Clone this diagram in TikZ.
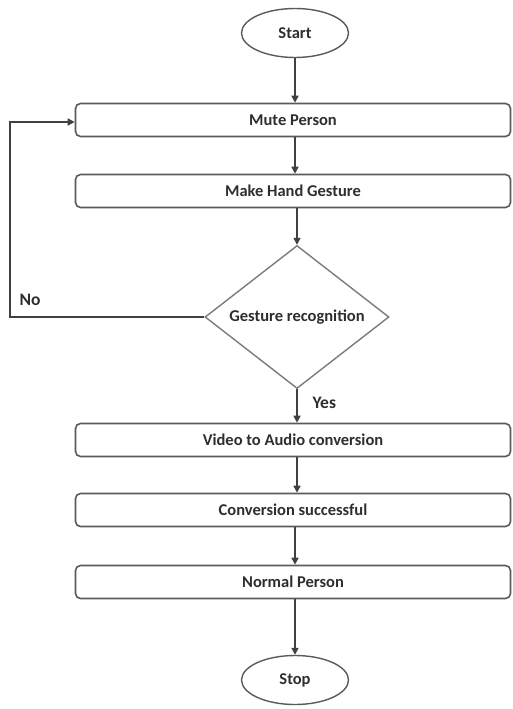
\documentclass[tikz,border=0pt]{standalone}
\usepackage{fontspec}
\setmainfont{Carlito}
\usetikzlibrary{shapes.geometric,arrows.meta}
\definecolor{lc}{HTML}{5A5A5A}
\definecolor{tc}{HTML}{2E2E2E}
\begin{document}
\begin{tikzpicture}[x=1pt,y=-1pt,
  every node/.style={text=tc,font=\bfseries\fontsize{16.5}{18}\selectfont},
  procbox/.style={draw=lc,line width=1.6pt,rounded corners=5pt,minimum width=435pt,minimum height=33pt,inner sep=0pt},
  termnode/.style={draw=lc,line width=1.4pt,ellipse,minimum width=107pt,minimum height=49pt,inner sep=0pt},
  decnode/.style={draw=lc!80,line width=1.4pt,diamond,minimum width=184pt,minimum height=143pt,inner sep=0pt},
  flow/.style={draw=black!75,line width=1.6pt,-{Triangle[length=7pt,width=7pt]}},
  lbl/.style={font=\fontsize{17.5}{19}\selectfont\bfseries}]
\useasboundingbox (0,0) rectangle (512,709);
\node[termnode] (start) at (295,33) {Start};
\node[procbox] (mute) at (293,120) {Mute Person};
\node[procbox] (hand) at (293,191) {Make Hand Gesture};
\node[decnode] (dec) at (297,317) {\makebox[0pt]{Gesture recognition}};
\node[procbox] (video) at (293,440) {Video to Audio conversion};
\node[procbox] (conv) at (293,510) {Conversion successful};
\node[procbox] (normal) at (293,582) {Normal Person};
\node[termnode] (stop) at (295,680) {Stop};
\coordinate (c1) at (10,317);
\coordinate (c2) at (10,122);
\draw[flow] (start.south) -- (start.south |- mute.north);
\draw[flow] (mute.south -| start.south) -- (hand.north -| start.south);
\draw[flow] (hand.south -| dec.north) -- (dec.north);
\draw[flow] (dec.south) -- (video.north -| dec.south);
\draw[flow] (video.south -| dec.south) -- (conv.north -| dec.south);
\draw[flow] (conv.south -| start.south) -- (normal.north -| start.south);
\draw[flow] (normal.south -| start.south) -- (stop.north);
\draw[flow] (dec.west) -- (c1) -- (c2) -- (c2 -| mute.west);
\node[lbl,anchor=west] (no) at (16,300) {No};
\node[lbl,anchor=west] (yes) at (309,403) {Yes};
\end{tikzpicture}
\end{document}
